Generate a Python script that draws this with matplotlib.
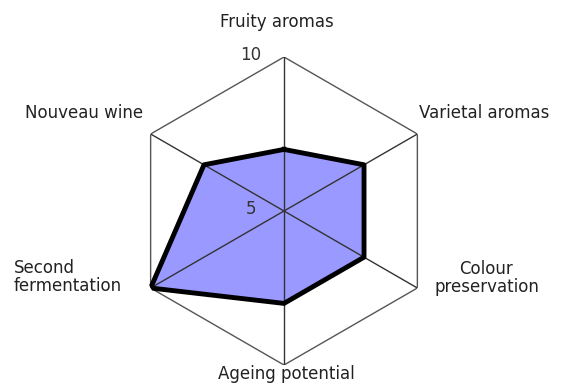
import matplotlib
matplotlib.use('Agg')
import matplotlib.pyplot as plt
import numpy as np

categories = ["Fruity aromas", "Varietal aromas", "Colour\npreservation",
              "Ageing potential", "Second\nfermentation", "Nouveau wine"]
values = [7, 8, 8, 8, 10, 8]
rmin, rmax = 5, 10

W, H = 563, 383
fig = plt.figure(figsize=(W / 100, H / 100), dpi=100)
cx, cy, R = 284, 211, 154
ax = fig.add_axes([(cx - R) / W, (H - cy - R) / H, 2 * R / W, 2 * R / H], polar=True)
ax.set_theta_offset(np.pi / 2)
ax.set_theta_direction(-1)
ax.set_ylim(rmin, rmax)
ax.grid(False)
ax.spines['polar'].set_visible(False)
ax.set_xticks([])
ax.set_yticks([])

angles = np.linspace(0, 2 * np.pi, len(categories), endpoint=False)
# hexagon outline and spokes
hx = np.append(angles, angles[0])
ax.plot(hx, [rmax] * len(hx), color='#555555', lw=1, zorder=1)
for a in angles:
    ax.plot([a, a], [rmin, rmax], color='#333333', lw=1, zorder=2.5)

vals = values + values[:1]
ax.fill(hx, vals, color='#9999ff', zorder=2)
ax.plot(hx, vals, color='black', lw=3.5, zorder=3)

# radial labels
for r in (rmin, rmax):
    ax.annotate(str(r), (0, r), xytext=(-33, 2), textcoords='offset pixels',
                ha='center', va='center', fontsize=12, color='#333333', zorder=4)

tc = '#222222'
fs = 12
fig.text(277 / W, 1 - 22 / H, categories[0], ha='center', va='center', fontsize=fs, color=tc)
fig.text(484 / W, 1 - 113 / H, categories[1], ha='center', va='center', fontsize=fs, color=tc)
fig.text(434 / W, 1 - 278 / H, categories[2], ha='left', va='center', fontsize=fs, color=tc,
         multialignment='center', linespacing=1.0)
fig.text(286 / W, 1 - 374 / H, categories[3], ha='center', va='center', fontsize=fs, color=tc)
fig.text(14 / W, 1 - 277 / H, categories[4], ha='left', va='center', fontsize=fs, color=tc,
         linespacing=1.0)
fig.text(84 / W, 1 - 113 / H, categories[5], ha='center', va='center', fontsize=fs, color=tc)

fig.savefig('out.png', dpi=100)
